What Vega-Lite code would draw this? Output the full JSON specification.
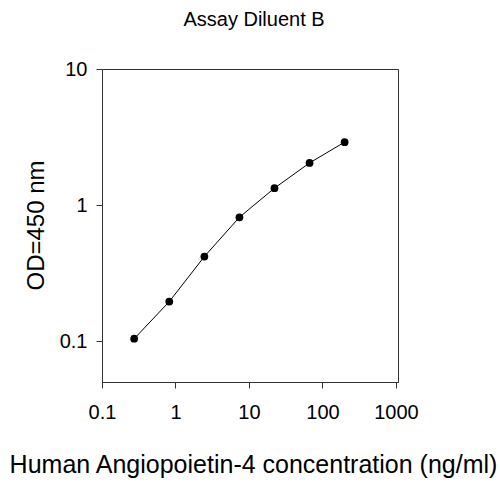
{
  "$schema": "https://vega.github.io/schema/vega-lite/v6.json",
  "autosize": "none",
  "padding": {"left": 102, "top": 69, "right": 102, "bottom": 102},
  "width": 296,
  "height": 313,
  "background": "white",
  "title": {
    "text": "Assay Diluent B",
    "anchor": "middle",
    "frame": "group",
    "font": "Liberation Sans",
    "fontSize": 20,
    "fontWeight": "normal",
    "color": "black",
    "baseline": "alphabetic",
    "offset": 13,
    "dx": 4
  },
  "data": {
    "values": [
      {"conc": 0.274, "od": 0.104},
      {"conc": 0.823, "od": 0.195},
      {"conc": 2.47, "od": 0.418},
      {"conc": 7.41, "od": 0.813},
      {"conc": 22.2, "od": 1.33},
      {"conc": 66.7, "od": 2.04},
      {"conc": 200, "od": 2.9}
    ]
  },
  "encoding": {
    "x": {
      "field": "conc",
      "type": "quantitative",
      "scale": {"type": "log", "domain": [0.1, 1065], "nice": false},
      "axis": {
        "title": "Human Angiopoietin-4 concentration (ng/ml)",
        "values": [0.1, 1, 10, 100, 1000],
        "labelExpr": "datum.value >= 1 ? format(datum.value, 'd') : '0.1'",
        "labelBaseline": "alphabetic",
        "labelPadding": 30,
        "titleFontSize": 25,
        "titleX": 151,
        "titleY": 90,
        "titleAlign": "center",
        "titleBaseline": "alphabetic"
      }
    },
    "y": {
      "field": "od",
      "type": "quantitative",
      "scale": {"type": "log", "domain": [0.05, 10], "nice": false},
      "axis": {
        "title": "OD=450 nm",
        "values": [0.1, 1, 10],
        "labelExpr": "datum.value >= 1 ? format(datum.value, 'd') : '0.1'",
        "labelBaseline": "middle",
        "labelPadding": 9,
        "titleFontSize": 24,
        "titleX": -59,
        "titleY": 156,
        "titleAlign": "center",
        "titleBaseline": "alphabetic"
      }
    }
  },
  "layer": [
    {"mark": {"type": "line", "color": "black", "strokeWidth": 1}},
    {"mark": {"type": "point", "filled": true, "color": "black", "size": 60, "opacity": 1}}
  ],
  "config": {
    "view": {"stroke": "#333", "strokeWidth": 1},
    "axis": {
      "grid": false,
      "domainColor": "#333",
      "tickColor": "#333",
      "tickSize": 6,
      "labelFont": "Liberation Sans",
      "labelFontSize": 20,
      "labelColor": "black",
      "labelFlush": false,
      "labelOverlap": false,
      "titleFont": "Liberation Sans",
      "titleFontWeight": "normal",
      "titleColor": "black"
    }
  }
}
